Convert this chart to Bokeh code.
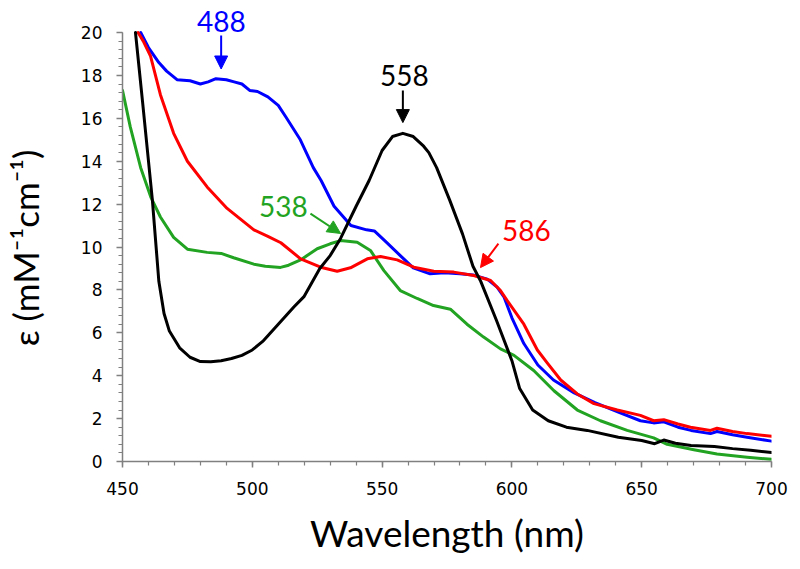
from bokeh.plotting import figure
from bokeh.models import Range1d, FixedTicker, Label, Arrow, NormalHead
from bokeh.embed import file_html
from bokeh.resources import INLINE

# ---------------- data ----------------
black_wl = [455, 457.7, 461.5, 464, 466, 468, 472, 476, 480, 484, 488, 492, 496, 500, 504,
            510, 516, 520, 526, 530, 534, 540, 545, 550, 554, 558, 562, 566, 568, 571,
            576, 581, 585, 588, 594, 600, 603, 608, 614, 621, 629, 641, 650, 655, 658.5,
            663, 669, 678, 685, 692, 700]
black_eps = [20, 16.8, 12.2, 8.4, 6.9, 6.1, 5.3, 4.86, 4.66, 4.65, 4.7, 4.8, 4.95, 5.2, 5.6,
             6.4, 7.2, 7.7, 9.0, 9.6, 10.4, 11.9, 13.1, 14.5, 15.15, 15.3, 15.15, 14.7, 14.4, 13.7,
             12.2, 10.6, 9.1, 8.4, 6.6, 4.7, 3.4, 2.4, 1.9, 1.6, 1.45, 1.13, 0.98, 0.83, 1.0,
             0.85, 0.75, 0.7, 0.6, 0.52, 0.42]

blue_wl = [457, 460, 464, 467, 471, 476, 480, 483, 486, 490, 493, 496, 499, 502, 506, 510,
           513, 518.5, 523.5, 526.5, 531.5, 538, 544, 547, 551, 557, 562, 568.5, 574, 580,
           585, 590.5, 594.3, 597, 600, 604.6, 610, 616, 624, 632, 641, 649.5, 654.6, 658.5,
           664, 669, 676.5, 679, 685, 690.6, 700]
blue_eps = [20, 19.3, 18.6, 18.2, 17.8, 17.75, 17.6, 17.7, 17.85, 17.8, 17.7, 17.6, 17.3, 17.25,
            17.0, 16.6, 16.05, 15.0, 13.7, 13.1, 11.9, 11.0, 10.8, 10.75, 10.3, 9.6, 9.03, 8.75,
            8.8, 8.75, 8.7, 8.5, 8.13, 7.66, 6.7, 5.5, 4.5, 3.8, 3.2, 2.75, 2.3, 1.9, 1.8, 1.85,
            1.6, 1.45, 1.3, 1.4, 1.25, 1.13, 0.95]

red_wl = [456, 458, 460.8, 464.6, 469.7, 475, 482.6, 490.3, 500.6, 506, 511, 518.6, 526.3,
          532.7, 537.8, 544.3, 549.4, 555.8, 562.2, 569.9, 577.6, 585.3, 591.8, 595.6, 598.2,
          604.6, 609.8, 613.6, 618.8, 625.2, 631.6, 640.6, 649.5, 654.6, 658.5, 664, 668.8,
          676.5, 679, 685, 690.6, 700]
red_eps = [20, 19.6, 18.9, 17.1, 15.3, 14.0, 12.8, 11.8, 10.8, 10.5, 10.2, 9.45, 9.06, 8.87,
           9.03, 9.45, 9.56, 9.4, 9.06, 8.87, 8.83, 8.67, 8.44, 7.97, 7.5, 6.4, 5.2, 4.6, 3.8,
           3.15, 2.7, 2.4, 2.15, 1.9, 1.95, 1.75, 1.6, 1.45, 1.55, 1.4, 1.3, 1.18]

green_wl = [450, 453, 457, 461, 464.6, 469.7, 475, 482.6, 488, 492.8, 500.6, 505, 510.9, 514,
            518.6, 525, 530, 534, 540.4, 545.5, 550.7, 557, 563.5, 569.8, 576.3, 582.7, 589.1,
            595.6, 600.8, 608.4, 616.2, 625.2, 634.1, 644.4, 654.6, 659.8, 664, 670.1, 679,
            690.6, 700]
green_eps = [17.3, 15.6, 13.7, 12.3, 11.4, 10.45, 9.9, 9.75, 9.7, 9.5, 9.2, 9.1, 9.05, 9.15,
             9.4, 9.92, 10.15, 10.3, 10.22, 9.84, 8.9, 7.97, 7.6, 7.27, 7.1, 6.4, 5.8, 5.25,
             4.95, 4.24, 3.3, 2.4, 1.9, 1.45, 1.1, 0.8, 0.7, 0.55, 0.35, 0.2, 0.1]

x_ticks = [450, 500, 550, 600, 650, 700]
y_ticks = [0, 2, 4, 6, 8, 10, 12, 14, 16, 18, 20]

peak_labels = ["488", "558", "538", "586"]

BLUE = "#0000FF"
RED = "#FF0000"
GREEN = "#22A322"
BLACK = "#000000"

# ---------------- figure ----------------
p = figure(frame_width=649, frame_height=453,
           x_range=Range1d(450, 700), y_range=Range1d(0, 21.12),
           output_backend="svg", toolbar_location=None,
           min_border_left=121, min_border_right=20, min_border_top=8,
           min_border_bottom=100, background_fill_color="white",
           border_fill_color="white")
p.outline_line_color = None
p.xgrid.visible = False
p.ygrid.visible = False

for wl, eps, col in [(green_wl, green_eps, GREEN), (blue_wl, blue_eps, BLUE),
                     (red_wl, red_eps, RED), (black_wl, black_eps, BLACK)]:
    p.line(wl, eps, line_color=col, line_width=3, line_join="round", line_cap="round")

# axes
p.xaxis.ticker = FixedTicker(ticks=x_ticks, minor_ticks=list(range(450, 701, 10)))
p.yaxis.ticker = FixedTicker(ticks=y_ticks, minor_ticks=[round(0.4 * i, 1) for i in range(51)])
p.yaxis.bounds = (0, 20)
p.xaxis.bounds = (450, 700)
for ax in (p.xaxis, p.yaxis):
    ax.axis_line_color = "#808080"
    ax.axis_line_width = 1.5
    ax.major_tick_line_color = "#808080"
    ax.minor_tick_line_color = "#808080"
    ax.major_tick_line_width = 1.5
    ax.minor_tick_line_width = 1.2
    ax.major_tick_in = 0
    ax.minor_tick_in = 0
    ax.major_tick_out = 6
    ax.minor_tick_out = 4
    ax.major_label_text_font = "DejaVu Sans"
    ax.major_label_text_font_size = "17px"
    ax.major_label_text_color = "black"
    ax.major_label_standoff = 14

p.xaxis.axis_label = "Wavelength (nm)"
p.xaxis.axis_label_text_font = "Lato"
p.xaxis.axis_label_text_font_size = "37px"
p.xaxis.axis_label_text_font_style = "normal"
p.xaxis.axis_label_text_color = "black"
p.xaxis.axis_label_standoff = 12

# y-axis title (trailing em space nudges the centred text downwards)
p.yaxis.axis_label = "ε (mM⁻¹cm⁻¹)\u2003"
p.yaxis.axis_label_text_font = "Lato"
p.yaxis.axis_label_text_font_size = "35px"
p.yaxis.axis_label_text_font_style = "normal"
p.yaxis.axis_label_text_color = "black"
p.yaxis.axis_label_standoff = 32

# peak annotations
ann = [
    # text, color, text x, text y, arrow start (x, y), arrow end (x, y)
    (peak_labels[0], BLUE, 488.1, 20.5, (488, 19.86), (488, 18.3)),
    (peak_labels[1], BLACK, 558.6, 18.0, (558, 17.3), (558, 15.8)),
    (peak_labels[2], GREEN, 512.0, 11.9, (522.4, 11.56), (534.0, 10.63)),
    (peak_labels[3], RED, 605.6, 10.77, (594.8, 10.16), (587.9, 9.04)),
]
for txt, col, tx, ty, (xs, ys), (xe, ye) in ann:
    p.add_layout(Label(x=tx, y=ty, text=txt, text_align="center", text_baseline="middle",
                       text_font="Lato", text_font_size="28px", text_color=col))
    p.add_layout(Arrow(end=NormalHead(size=13, fill_color=col, line_color=col, line_width=1),
                       x_start=xs, y_start=ys, x_end=xe, y_end=ye,
                       line_color=col, line_width=2))

open("out.html", "w").write(file_html(p, INLINE))
